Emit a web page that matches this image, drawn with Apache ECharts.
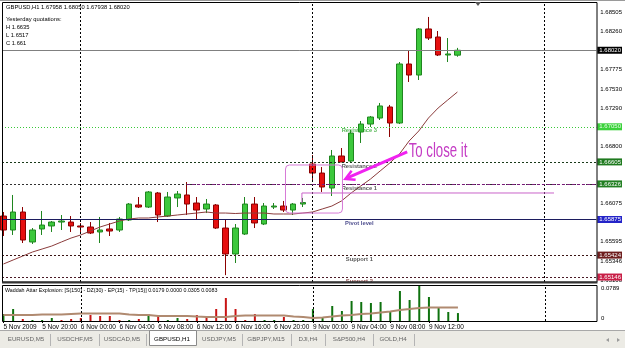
<!DOCTYPE html>
<html><head><meta charset="utf-8">
<script src="https://cdn.jsdelivr.net/npm/echarts@6/dist/echarts.min.js"></script>
<style>html,body{margin:0;padding:0;background:#fff}#c{width:625px;height:348px}</style>
</head><body><div id="c"></div>
<script>
// ---------- data ----------
const symbolTitle = 'GBPUSD,H1';
const lastQuote = ['1.67958', '1.68050', '1.67938', '1.68020'];
const yesterdayLines = ['Yesterday quotations:', 'H 1.6635', 'L 1.6517', 'C 1.661'];
const timeLabels = ['5 Nov 2009','5 Nov 20:00','6 Nov 00:00','6 Nov 04:00','6 Nov 08:00','6 Nov 12:00','6 Nov 16:00','6 Nov 20:00','9 Nov 00:00','9 Nov 04:00','9 Nov 08:00','9 Nov 12:00'];
const timeLabelIdx = [0, 4, 8, 12, 16, 20, 24, 28, 32, 36, 40, 44];
const daySeparators = [8, 32, 56];

const opens = [1.65919,1.65742,1.65970,1.65590,1.65755,1.65793,1.65843,1.65843,1.65793,1.65780,
  1.65717,1.65755,1.65742,1.65869,1.66059,1.66033,1.66211,1.65919,1.66148,1.66186,
  1.66084,1.66008,1.66059,1.65767,1.65438,1.65691,1.66071,1.65818,1.66033,1.66046,
  1.65995,1.66071,1.66578,1.66464,1.66274,1.66680,1.66616,1.66984,1.67085,1.67161,
  1.67301,1.67098,1.67846,1.67706,1.68290,1.68188,1.67960,1.67958];
const closes = [1.65742,1.65970,1.65615,1.65742,1.65805,1.65843,1.65856,1.65793,1.65780,1.65704,
  1.65742,1.65729,1.65881,1.66071,1.66033,1.66224,1.65932,1.66160,1.66198,1.66071,
  1.65995,1.66071,1.65767,1.65438,1.65767,1.66071,1.65831,1.66046,1.66046,1.65995,
  1.66071,1.66090,1.66464,1.66287,1.66680,1.66604,1.66971,1.67085,1.67174,1.67314,
  1.67098,1.67846,1.67706,1.68290,1.68175,1.67960,1.67973,1.68020];
const highs = [1.65970,1.66186,1.66033,1.65767,1.65983,1.65856,1.65932,1.65919,1.65831,1.65843,
  1.65907,1.65831,1.65907,1.66084,1.66160,1.66236,1.66224,1.66224,1.66236,1.66350,
  1.66160,1.66135,1.66071,1.65881,1.65818,1.66160,1.66160,1.66084,1.66084,1.66110,
  1.66084,1.66148,1.66692,1.66540,1.66756,1.66781,1.67010,1.67123,1.67187,1.67352,
  1.67327,1.67871,1.68011,1.68302,1.68442,1.68264,1.68175,1.68050];
const lows = [1.65666,1.65679,1.65577,1.65565,1.65679,1.65717,1.65742,1.65717,1.65704,1.65691,
  1.65577,1.65666,1.65717,1.65856,1.66021,1.66021,1.65843,1.65907,1.66033,1.65932,
  1.65869,1.65957,1.65755,1.65170,1.65324,1.65679,1.65767,1.65805,1.66008,1.65970,
  1.65932,1.66033,1.66350,1.66224,1.66173,1.66604,1.66604,1.66845,1.67048,1.67136,
  1.66921,1.67085,1.67618,1.67643,1.68150,1.67947,1.67871,1.67938];
const movingAvg = [1.65311,1.65362,1.65412,1.65463,1.65501,1.65539,1.65590,1.65640,1.65679,1.65729,
  1.65780,1.65818,1.65856,1.65881,1.65894,1.65894,1.65907,1.65919,1.65932,1.65945,
  1.65957,1.65970,1.65957,1.65957,1.65951,1.65957,1.65957,1.65957,1.65945,1.65945,
  1.65945,1.65957,1.65970,1.66008,1.66046,1.66110,1.66211,1.66300,1.66388,1.66490,
  1.66591,1.66705,1.66870,1.66997,1.67161,1.67288,1.67390,1.67491];

const priceTicks = [1.68505, 1.68260, 1.67775, 1.67530, 1.67290, 1.66800, 1.66075, 1.65595, 1.65346, 1.65100];
const bidPrice = 1.68020;
const levelValues = [1.67050, 1.66605, 1.66326, 1.65875, 1.65424, 1.65146];
const levelNames = ['Resistance 3', 'Resistance 2', 'Resistance 1', 'Pivot level', 'Support 1', 'Support 2'];
const yesterdayHighIdx = 19;

// Waddah Attar Explosion pane
const waeTitle = 'Waddah Attar Explosion: [S(150) - DZ(30) - EP(15) - TP(15)] 0.0179 0.0000 0.0305 0.0083';
const waeTicks = [0, 0.0789];
const trendUp = [0.0158,0.0270,0,0.0023,0.0023,0.0068,0,0,0,0,
  0,0,0,0.0023,0,0.0158,0,0.0023,0.0068,0,
  0,0,0,0,0,0,0,0.0023,0.0023,0,
  0.0023,0.0023,0.0270,0.0090,0.0338,0.0225,0.0451,0.0428,0.0406,0.0428,
  0.0203,0.0676,0.0473,0.0789,0.0541,0.0316,0.0203,0.0179];
const trendDown = [0,0,0.0045,0,0,0,0.0023,0.0045,0.0068,0.0135,
  0.0113,0.0113,0.0023,0,0.0045,0,0.0113,0,0,0.0045,
  0.0135,0.0090,0.0270,0.0518,0.0270,0.0023,0.0158,0,0,0.0090,
  0,0,0,0,0,0,0,0,0,0,
  0,0,0,0,0,0,0,0];
const explosion = [0.0135,0.0135,0.0135,0.0135,0.0147,0.0147,0.0147,0.0158,0.0169,0.0169,
  0.0169,0.0169,0.0169,0.0147,0.0135,0.0135,0.0113,0.0113,0.0113,0.0113,
  0.0101,0.0090,0.0090,0.0090,0.0113,0.0124,0.0124,0.0124,0.0124,0.0124,
  0.0101,0.0090,0.0068,0.0079,0.0101,0.0124,0.0135,0.0158,0.0169,0.0192,
  0.0214,0.0248,0.0270,0.0293,0.0304,0.0305,0.0305,0.0305];

const tabs = ['EURUSD,M5','USDCHF,M5','USDCAD,M5','GBPUSD,H1','USDJPY,M5','GBPJPY,M15','DJI,H4','S&P500,H4','GOLD,H4'];
const activeTab = 3;
const noteText = 'To close it';

// annotation anchors (bar index, price)
const gapBox = [[29.2, 1.66566], [35.1, 1.65957]];
const bracket = [[30.9, 1.66084], [30.9, 1.66211], [57.0, 1.66211]];
const arrowFrom = [41.8, 1.66731], arrowTo = [35.4, 1.66390];
const noteAnchor = [41.95, 1.66743];

// ---------- chart ----------
const FONT = '"Liberation Sans", Arial, sans-serif';
const X_MIN = -0.15, X_MAX = 61.38;
const P_MIN = 1.65083, P_MAX = 1.68619;

const chart = echarts.init(document.getElementById('c'));
const candleData = opens.map((o, i) => [i, o, closes[i], lows[i], highs[i]]);

function tag(v, bg, fg) {
  return { show: true, position: 'end', distance: 1, backgroundColor: bg, color: fg,
    fontSize: 6, fontFamily: FONT, padding: [1, 1, 0, 2], formatter: v.toFixed(5) };
}
const levelLine = [
  { c: '#38c838', t: [1, 2], tagBg: '#3ad13a', tagFg: '#eaffea' },
  { c: '#1a3a1a', t: [2, 2], tagBg: '#1f7a1f', tagFg: '#ffffff' },
  { c: '#303030', t: [2, 2], tagBg: '#227f22', tagFg: '#ffffff' },
  { c: '#1c1c5e', t: 'solid', tagBg: '#2424c8', tagFg: '#ffffff' },
  { c: '#3a1414', t: [2, 2], tagBg: '#6e1e1e', tagFg: '#ffffff' },
  { c: '#4a1a26', t: [2, 2], tagBg: '#c81e46', tagFg: '#ffffff' }
];
const levelText = ['#30a830', '#303030', '#303030', '#1c1c6e', '#303030', '#7a2a2a'];

const mlData = [];
daySeparators.forEach(d => mlData.push({ xAxis: d, lineStyle: { color: '#000', type: [2, 2], width: 1 }, label: { show: false } }));
mlData.push({ yAxis: bidPrice, lineStyle: { color: '#808080', type: 'solid', width: 1 }, label: tag(bidPrice, '#000', '#fff') });
levelValues.forEach((v, i) => {
  const s = levelLine[i];
  if (i === 2) {
    mlData.push({ yAxis: v, lineStyle: { color: s.c, type: s.t, width: 1 }, label: { show: false } });
    mlData.push([{ coord: [yesterdayHighIdx, v], lineStyle: { color: '#7a1a7a', type: [3, 2], width: 1 }, label: tag(v, s.tagBg, s.tagFg) },
                 { coord: [X_MAX, v] }]);
  } else {
    mlData.push({ yAxis: v, lineStyle: { color: s.c, type: s.t, width: 1 }, label: tag(v, s.tagBg, s.tagFg) });
  }
});

const option = {
  animation: false,
  backgroundColor: '#fff',
  textStyle: { fontFamily: FONT },
  grid: [
    { left: 2, right: 28, top: 3, height: 279 },
    { left: 2, right: 28, top: 286, height: 35 }
  ],
  xAxis: [
    { gridIndex: 0, type: 'value', min: X_MIN, max: X_MAX, show: false },
    { gridIndex: 1, type: 'value', min: X_MIN, max: X_MAX,
      axisLine: { show: false }, splitLine: { show: false },
      axisTick: { show: true, customValues: timeLabelIdx, length: 2, lineStyle: { color: '#000' } },
      axisLabel: { customValues: timeLabelIdx, formatter: v => timeLabels[timeLabelIdx.indexOf(Math.round(v))],
        align: 'left', fontSize: 6.5, color: '#000', margin: 3, fontFamily: FONT } }
  ],
  yAxis: [
    { gridIndex: 0, type: 'value', position: 'right', min: P_MIN, max: P_MAX,
      splitLine: { show: false }, axisLine: { show: false }, axisTick: { show: false },
      axisLabel: { customValues: priceTicks, formatter: v => v.toFixed(5), fontSize: 6, color: '#000', margin: 4, fontFamily: FONT } },
    { gridIndex: 1, type: 'value', position: 'right', min: 0, max: 0.0789,
      splitLine: { show: false }, axisLine: { show: false }, axisTick: { show: false },
      axisLabel: { customValues: waeTicks, margin: 4,
        formatter: v => v === 0 ? '{b|0}' : '{t|' + v.toFixed(4) + '}',
        rich: { t: { fontSize: 6, fontFamily: FONT, color: '#000', padding: [4, 0, 0, 0] },
                b: { fontSize: 6, fontFamily: FONT, color: '#000', padding: [0, 0, 6, 0] } } } }
  ],
  series: [
    { type: 'candlestick', name: symbolTitle, xAxisIndex: 0, yAxisIndex: 0, data: candleData, barWidth: 6,
      itemStyle: { color: '#3cc83c', color0: '#e61010', borderColor: '#1f861f', borderColor0: '#8c0000', borderWidth: 1 },
      markLine: { silent: true, precision: 6, symbol: ['none', 'none'], animation: false, data: mlData }, z: 3 },
    { type: 'line', name: 'MA', xAxisIndex: 0, yAxisIndex: 0, data: movingAvg.map((v, i) => [i, v]),
      symbol: 'none', lineStyle: { color: '#8b3c3c', width: 1 }, z: 4, silent: true },
    { type: 'scatter', name: 'levels', xAxisIndex: 0, yAxisIndex: 0, symbolSize: 1, silent: true,
      itemStyle: { color: 'rgba(0,0,0,0)' }, z: 5,
      data: levelValues.map((v, i) => ({ value: [36.9, v], name: levelNames[i],
        label: { show: true, position: [0, 1.5], align: 'center', verticalAlign: 'top', formatter: levelNames[i],
          color: levelText[i], fontSize: 5.8, fontWeight: 'bold', fontFamily: FONT } })) },
    { type: 'bar', name: 'up', xAxisIndex: 1, yAxisIndex: 1, data: trendUp.map((v, i) => [i, v]), barWidth: 2, barGap: '-100%',
      itemStyle: { color: '#0f720f' }, silent: true,
      markLine: { silent: true, symbol: ['none', 'none'], label: { show: false },
        lineStyle: { color: '#000', type: [2, 2], width: 1 }, data: daySeparators.map(d => ({ xAxis: d })) } },
    { type: 'bar', name: 'down', xAxisIndex: 1, yAxisIndex: 1, data: trendDown.map((v, i) => [i, v]), barWidth: 2, barGap: '-100%',
      itemStyle: { color: '#c81414' }, silent: true },
    { type: 'line', name: 'explosion', xAxisIndex: 1, yAxisIndex: 1, data: explosion.map((v, i) => [i, v]),
      symbol: 'none', lineStyle: { color: '#b08a70', width: 2 }, z: 4, silent: true }
  ]
};
chart.setOption(option);

// ---------- chrome + annotations ----------
const P = (a) => chart.convertToPixel({ xAxisIndex: 0, yAxisIndex: 0 }, a);
const g = [];
const Z = 100;
g.push({ type: 'rect', z: Z - 1, shape: { x: 0, y: 282.5, width: 598, height: 3 }, style: { fill: '#fff' } });
g.push({ type: 'line', z: Z, shape: { x1: 0, y1: 0.5, x2: 625, y2: 0.5 }, style: { stroke: '#9a9a9a', lineWidth: 1 } });
g.push({ type: 'rect', z: Z, shape: { x: 2.5, y: 2.5, width: 594.5, height: 279.5 }, style: { fill: 'none', stroke: '#000', lineWidth: 1 } });
g.push({ type: 'line', z: Z, shape: { x1: 2, y1: 282.5, x2: 597.5, y2: 282.5 }, style: { stroke: '#333', lineWidth: 2 } });
g.push({ type: 'rect', z: Z, shape: { x: 2.5, y: 285.5, width: 594.5, height: 36 }, style: { fill: 'none', stroke: '#000', lineWidth: 1 } });
g.push({ type: 'polygon', z: Z, shape: { points: [[475, 2], [481, 2], [478, 6]] }, style: { fill: '#555' } });
g.push({ type: 'text', z: Z, x: 6, y: 7, style: { text: symbolTitle + ' ' + lastQuote.join(' '), fill: '#000', font: '5.8px ' + FONT, verticalAlign: 'middle', textVerticalAlign: 'middle' } });
yesterdayLines.forEach((t, i) => g.push({ type: 'text', z: Z, x: 6, y: 19.5 + i * 8, style: { text: t, fill: '#000', font: '5.8px ' + FONT, verticalAlign: 'middle', textVerticalAlign: 'middle' } }));
g.push({ type: 'text', z: Z, x: 5, y: 291, style: { text: waeTitle, fill: '#000', font: '5.3px ' + FONT, verticalAlign: 'middle', textVerticalAlign: 'middle' } });

const b0 = P(gapBox[0]), b1 = P(gapBox[1]);
g.push({ type: 'rect', z: Z - 2, shape: { x: b0[0], y: b0[1], width: b1[0] - b0[0], height: b1[1] - b0[1], r: 4 }, style: { fill: 'none', stroke: '#d77ad7', lineWidth: 1 } });
g.push({ type: 'polyline', z: Z - 2, shape: { points: bracket.map(P) }, style: { fill: 'none', stroke: '#c964c9', lineWidth: 1 } });
const a0 = P(arrowFrom), a1 = P(arrowTo);
g.push({ type: 'line', z: Z - 2, shape: { x1: a0[0], y1: a0[1], x2: a1[0] + 2, y2: a1[1] - 1 }, style: { stroke: '#f022f0', lineWidth: 3 } });
const dx = a1[0] - a0[0], dy = a1[1] - a0[1], L = Math.hypot(dx, dy), ux = dx / L, uy = dy / L;
const w1 = [a1[0] - ux * 9 - uy * 5, a1[1] - uy * 9 + ux * 5], w2 = [a1[0] - ux * 9 + uy * 5, a1[1] - uy * 9 - ux * 5];
g.push({ type: 'polyline', z: Z - 2, shape: { points: [w1, a1, w2] }, style: { fill: 'none', stroke: '#f022f0', lineWidth: 2.5 } });
const na = P(noteAnchor);
g.push({ type: 'text', z: Z - 2, x: na[0], y: na[1], scaleX: 0.63, style: { text: noteText, fill: '#c43cc4', font: '21px ' + FONT, align: 'left', textAlign: 'left', verticalAlign: 'middle', textVerticalAlign: 'middle' } });

g.push({ type: 'rect', z: Z, shape: { x: 0, y: 330.5, width: 625, height: 18 }, style: { fill: '#ecebe5' } });
g.push({ type: 'line', z: Z, shape: { x1: 0, y1: 330.5, x2: 625, y2: 330.5 }, style: { stroke: '#a8a8a8', lineWidth: 1 } });
const tabCenters = [26, 75, 122, 172, 219, 266, 308, 349, 393];
const tabSeps = [50, 99, 146, 242, 291, 325, 373, 414];
tabSeps.forEach(x => g.push({ type: 'line', z: Z, shape: { x1: x + 0.5, y1: 334, x2: x + 0.5, y2: 346 }, style: { stroke: '#b4b4b4', lineWidth: 1 } }));
g.push({ type: 'rect', z: Z, shape: { x: 149.5, y: 330.5, width: 47, height: 15 }, style: { fill: '#fff', stroke: '#8a8a8a', lineWidth: 1 } });
tabs.forEach((t, i) => g.push({ type: 'text', z: Z + 1, x: tabCenters[i], y: 339, style: { text: t, fill: i === activeTab ? '#000' : '#666', font: '6.2px ' + FONT, align: 'center', textAlign: 'center', verticalAlign: 'middle', textVerticalAlign: 'middle' } }));
g.push({ type: 'polygon', z: Z, shape: { points: [[606, 340], [609, 338], [609, 342]] }, style: { fill: '#9a9a9a' } });
g.push({ type: 'polygon', z: Z, shape: { points: [[620, 340], [617, 338], [617, 342]] }, style: { fill: '#9a9a9a' } });

chart.setOption({ graphic: { elements: g } });
</script></body></html>
